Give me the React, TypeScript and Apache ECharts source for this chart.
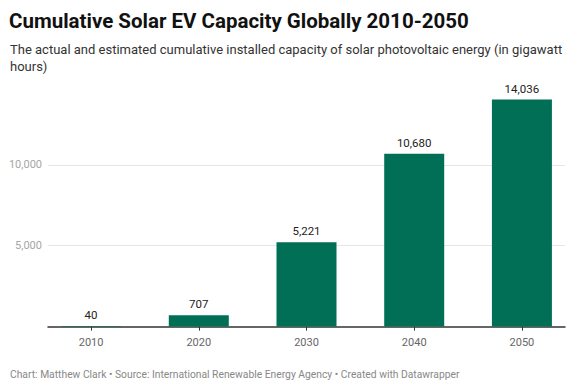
import React, { useEffect, useRef } from "react";
import * as echarts from "echarts";

const years = [2010, 2020, 2030, 2040, 2050];
const capacity = [40, 707, 5221, 10680, 14036];
const yTicks = [5000, 10000];
const titleText = "Cumulative Solar EV Capacity Globally 2010-2050";
const subtitleText =
  "The actual and estimated cumulative installed capacity of solar photovoltaic energy (in gigawatt\nhours)";
const footerText =
  "Chart: Matthew Clark • Source: International Renewable Energy Agency • Created with Datawrapper";

const FONT = "Roboto, 'Noto Sans', sans-serif";

export default function App() {
  const ref = useRef<HTMLDivElement>(null);
  useEffect(() => {
    if (!ref.current) return;
    const chart = echarts.init(ref.current, null, { renderer: "svg" });
    chart.setOption({
      animation: false,
      backgroundColor: "#ffffff",
      textStyle: { fontFamily: FONT },
      title: [
        {
          text: titleText,
          left: 9,
          top: 10,
          padding: 0,
          textStyle: { fontFamily: FONT, fontSize: 20.5, fontWeight: "bold", color: "#111111" },
        },
        {
          text: subtitleText,
          left: 10,
          top: 41,
          padding: 0,
          textStyle: { fontFamily: FONT, fontSize: 13, fontWeight: "normal", color: "#333333", lineHeight: 17 },
        },
        {
          text: footerText,
          left: 10,
          top: 369,
          padding: 0,
          textStyle: { fontFamily: FONT, fontSize: 10.3, fontWeight: "normal", color: "#888888" },
        },
      ],
      grid: { left: 48, right: 10, top: 84, bottom: 63.4, containLabel: false },
      xAxis: {
        type: "value",
        min: 2006,
        max: 2054,
        interval: 2,
        splitLine: { show: false },
        axisLine: { show: true, lineStyle: { color: "#333333", width: 1.5 } },
        axisTick: { show: true, length: 4, customValues: years, lineStyle: { color: "#333333" } },
        axisLabel: {
          customValues: years,
          color: "#666666",
          fontSize: 11,
          fontFamily: FONT,
          margin: 10,
          formatter: (v: number) => String(v),
        },
      },
      yAxis: {
        type: "value",
        min: 0,
        max: 15000,
        interval: 5000,
        axisLine: { show: false },
        axisTick: { show: false },
        splitLine: {
          show: true,
          lineStyle: { color: ["transparent", "#e6e6e6", "#e6e6e6", "transparent"], width: 1 },
        },
        axisLabel: {
          color: "#a6a6a6",
          fontSize: 11,
          fontFamily: FONT,
          margin: 6,
          formatter: (v: number) => (yTicks.includes(v) ? v.toLocaleString("en-US") : ""),
        },
      },
      series: [
        {
          type: "bar",
          barWidth: 60,
          data: years.map((y, i) => [y, capacity[i]]),
          itemStyle: { color: "#006f56" },
          label: {
            show: true,
            position: "top",
            distance: 5,
            color: "#222222",
            fontSize: 11.5,
            fontFamily: FONT,
            formatter: (p: any) => Number(p.value[1]).toLocaleString("en-US"),
          },
        },
      ],
    });
    return () => chart.dispose();
  }, []);
  return (
    <div
      ref={ref}
      style={{ position: "fixed", left: 0, top: 0, width: 575, height: 390 }}
    />
  );
}
